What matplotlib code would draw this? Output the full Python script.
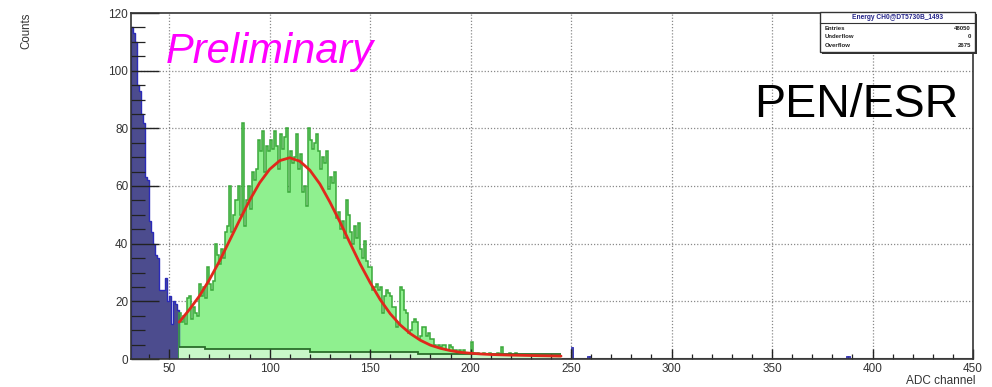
import numpy as np
import matplotlib.pyplot as plt
from matplotlib.patches import Rectangle

plt.rcParams['font.family'] = ['Liberation Sans', 'DejaVu Sans']

# low channels below the fit range (1 bin per ADC channel, starting at 31)
low_start = 31
low_counts = [115, 113, 110, 95, 93, 85, 82, 63, 62, 48, 44, 40, 36, 35,
              24, 24, 24, 28, 20, 22, 12, 20, 19, 17]

# signal region, channels 55..244
sig_start = 55
sig_counts = [
    16, 13, 15, 12, 21, 22, 14, 18, 16, 15,   # 55
    26, 22, 25, 21, 32, 26, 24, 27, 40, 36,   # 65
    33, 38, 35, 44, 46, 60, 44, 50, 55, 60,   # 75
    50, 82, 46, 55, 60, 52, 65, 62, 66, 76,   # 85
    72, 79, 65, 74, 72, 76, 73, 79, 74, 66,   # 95
    78, 73, 77, 80, 58, 72, 68, 70, 78, 66,   # 105
    71, 58, 60, 53, 80, 76, 73, 75, 78, 72,   # 115
    66, 70, 68, 72, 59, 63, 61, 65, 49, 51,   # 125
    45, 48, 42, 55, 50, 44, 40, 46, 42, 47,   # 135
    38, 35, 41, 34, 32, 32, 24, 25, 26, 24,   # 145
    25, 16, 22, 24, 23, 22, 18, 18, 11, 12,   # 155
    25, 24, 17, 16, 9, 10, 13, 14, 13, 7,     # 165
    8, 11, 11, 8, 9, 7, 7, 5, 4, 5,           # 175
    4, 5, 5, 3, 5, 4, 3, 3, 2, 3,             # 185
    2, 3, 2, 2, 2, 6, 2, 1, 2, 1,             # 195
    1, 2, 1, 1, 2, 1, 1, 1, 2, 1,             # 205
    4, 1, 1, 1, 2, 1, 1, 2, 1, 0,             # 215
    1, 1, 1, 0, 1, 1, 1, 0, 1, 0,             # 225
    1, 1, 0, 1, 1, 0, 1, 0, 1, 0,             # 235
]

# background component (step levels)
bg_edges = [55, 68, 120, 174, 245]
bg_levels = [4.3, 3.4, 2.6, 1.7]

# a few isolated counts above the fit range
tail_channels = [250, 258, 259, 387, 388]
tail_counts = [4, 1, 1, 1, 1]

# fit curve
fit_x = [55, 60, 65, 70, 75, 80, 85, 90, 95, 100, 105, 110, 115, 120, 125,
         130, 135, 140, 145, 150, 155, 160, 165, 170, 175, 180, 185, 190,
         195, 200, 205, 210, 215, 220, 225, 230, 235, 240, 245]
fit_y = [12.8, 17.1, 21.8, 27.5, 33.9, 41.0, 48.1, 55.0, 61.1, 65.8, 68.8,
         69.8, 68.6, 65.5, 60.7, 54.4, 47.5, 40.2, 33.0, 26.5, 20.6, 15.7,
         11.8, 8.8, 6.5, 4.8, 3.7, 2.9, 2.3, 2.0, 1.75, 1.56, 1.45, 1.35,
         1.28, 1.21, 1.13, 1.07, 1.0]

stats_title = 'Energy CH0@DT5730B_1493'
stats_rows = [('Entries', '48050'), ('Underflow', '0'), ('Overflow', '2675')]

W, H = 992, 387
fig = plt.figure(figsize=(W / 100, H / 100), dpi=100)
ax = fig.add_axes([131 / W, 1 - 359 / H, 842 / W, 346 / H])


def px(x, y):
    return x / W, 1 - y / H


ax.set_xlim(31, 450)
ax.set_ylim(0, 120)

# grid behind everything
ax.set_xticks(np.arange(50, 451, 50))
ax.set_yticks(np.arange(0, 121, 20))
for v in ax.get_xticks()[:-1]:
    ax.axvline(v, color='#8a8a8a', lw=0.9, ls=(0, (1, 1.5)), zorder=0)
for v in ax.get_yticks()[1:-1]:
    ax.axhline(v, color='#8a8a8a', lw=0.9, ls=(0, (1, 1.5)), zorder=0)

low_edges = np.arange(low_start, low_start + len(low_counts) + 1)
ax.stairs(low_counts, low_edges, fill=True, color='#4c4c8e', zorder=1)
ax.stairs(low_counts, low_edges, color='#2a2ab8', lw=1.0, zorder=1.2)

sig_edges = np.arange(sig_start, sig_start + len(sig_counts) + 1)
ax.stairs(sig_counts, sig_edges, fill=True, color='#8ff08f', zorder=1)
ax.stairs(sig_counts, sig_edges, color='#3aa83a', lw=1.1, zorder=1.2)

ax.stairs(bg_levels, bg_edges, fill=True, color='#c8f7c8', zorder=1.3)
ax.stairs(bg_levels, bg_edges, color='#2a6e2a', lw=1.3, zorder=1.4,
          baseline=None)

ax.bar(tail_channels, tail_counts, width=1, align='edge', color='#4c4c8e',
       edgecolor='#2a2ab8', lw=0.6, zorder=1.2)
ax.hlines(0.3, 245, 450, color='#666666', lw=0.8, zorder=1.1)

ax.plot(fit_x, fit_y, color='#e0281c', lw=2.0, zorder=3,
        solid_capstyle='round')

# ROOT-like axes
for side in ['top', 'right', 'left', 'bottom']:
    ax.spines[side].set_color('#333333')
    ax.spines[side].set_linewidth(1.2)
ax.set_xticks(np.arange(40, 451, 10), minor=True)
ax.set_yticks(np.arange(0, 121, 5), minor=True)
ax.tick_params(axis='y', which='major', direction='in', length=20, width=1.0,
               color='#222222', labelsize=8.5, labelcolor='#333333', pad=2)
ax.tick_params(axis='y', which='minor', direction='in', length=10, width=0.9,
               color='#222222')
ax.tick_params(axis='x', which='major', direction='in', length=7, width=1.0,
               color='#222222', labelsize=8.5, labelcolor='#333333', pad=3)
ax.tick_params(axis='x', which='minor', direction='in', length=3.5, width=0.9,
               color='#222222')

fig.text(*px(26, 13), 'Counts', rotation=90, ha='center', va='top',
         fontsize=8.3, color='#333333')
fig.text(*px(975, 381), 'ADC channel', ha='right', va='center',
         fontsize=8.5, color='#333333')

fig.text(*px(166, 63), 'Preliminary', color='#ff00ff', style='italic',
         fontsize=30, ha='left', va='baseline')
fig.text(*px(958, 117), 'PEN/ESR', color='black', fontsize=33.5,
         ha='right', va='baseline')

# stats box
bx0, by0, bx1, by1 = 820, 12, 975, 52
shadow = Rectangle(px(bx0 + 2, by1 + 2), (bx1 - bx0) / W, (by1 - by0) / H,
                   transform=fig.transFigure, facecolor='#333333',
                   edgecolor='none', zorder=5)
box = Rectangle(px(bx0, by1), (bx1 - bx0) / W, (by1 - by0) / H,
                transform=fig.transFigure, facecolor='white',
                edgecolor='#333333', lw=1.0, zorder=6)
fig.patches.extend([shadow, box])
fig.lines.append(plt.Line2D([bx0 / W, bx1 / W], [1 - 23 / H, 1 - 23 / H],
                            transform=fig.transFigure, color='#333333',
                            lw=0.8, zorder=7))
fig.text(*px((bx0 + bx1) / 2, 17.5), stats_title, ha='center', va='center',
         fontsize=4.8, fontweight='bold', color='#222288', zorder=8)
for i, (lab, val) in enumerate(stats_rows):
    yy = 28.5 + i * 8.5
    fig.text(*px(bx0 + 5, yy), lab, ha='left', va='center', fontsize=4.3,
             fontweight='bold', color='#222222', zorder=8)
    fig.text(*px(bx1 - 4, yy), val, ha='right', va='center', fontsize=4.3,
             fontweight='bold', color='#222222', zorder=8)

fig.savefig('out.png', dpi=100)
